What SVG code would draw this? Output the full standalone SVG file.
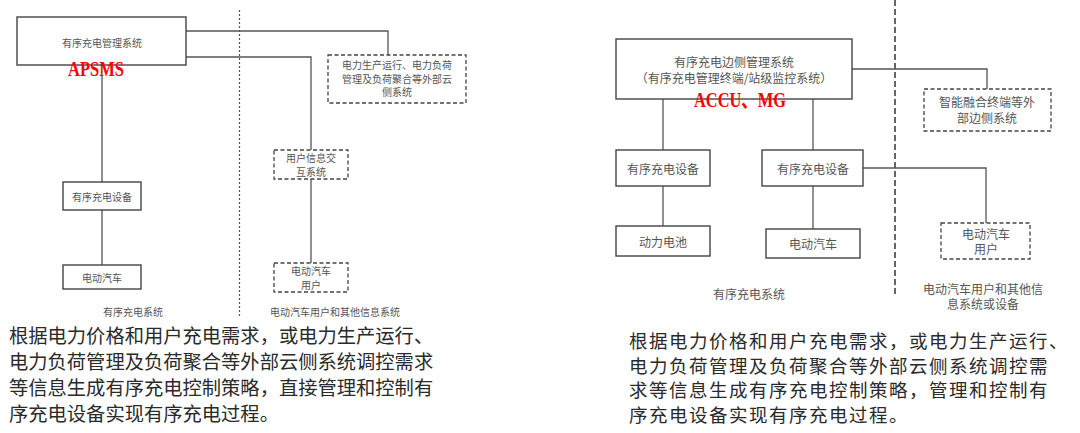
<svg xmlns="http://www.w3.org/2000/svg" width="1080" height="433" viewBox="0 0 1080 433">
<style>
.box{fill:#fff;stroke:#444;stroke-width:1.4}
.dbox{fill:#fff;stroke:#444;stroke-width:1.3;stroke-dasharray:4,2.5}
.ln{fill:none;stroke:#555;stroke-width:1.3}
.t{font-family:"Noto Sans CJK SC","Noto Sans",sans-serif;fill:#555;text-anchor:middle;dominant-baseline:central}
.s10{font-size:10px}
.s12{font-size:12px}
.red{font-family:"Liberation Serif","Noto Sans CJK SC",serif;fill:#ff0000;font-size:21px;font-weight:bold}
.p{font-family:"Noto Sans CJK SC","Noto Sans",sans-serif;fill:#2a2a2a;dominant-baseline:central}
</style>
<rect width="1080" height="433" fill="#fff"/>
<!-- separators -->
<line x1="239.5" y1="10" x2="239.5" y2="318" stroke="#555" stroke-width="1.2" stroke-dasharray="2,2"/>
<line x1="895" y1="0" x2="895" y2="297" stroke="#333" stroke-width="1.5" stroke-dasharray="6,3"/>
<g id="connectors">
<polyline class="ln" points="186,31 388,31 388,55"/>
<polyline class="ln" points="186,57 311,57 311,150"/>
<line class="ln" x1="102" y1="65" x2="102" y2="182"/>
<line class="ln" x1="102" y1="210" x2="102" y2="265"/>
<line class="ln" x1="311" y1="179" x2="311" y2="263"/>
<polyline class="ln" points="852,69 987,69 987,89"/>
<line class="ln" x1="663" y1="99" x2="663" y2="150"/>
<line class="ln" x1="813" y1="99" x2="813" y2="150"/>
<polyline class="ln" points="863,168 986,168 986,223"/>
<line class="ln" x1="663" y1="186" x2="663" y2="226"/>
<line class="ln" x1="813" y1="186" x2="813" y2="229"/>
</g>
<!-- left diagram -->
<g id="apsms-main">
<rect class="box" x="17" y="17" width="169" height="48"/>
<text class="t s10" x="102" y="42">有序充电管理系统</text>
<text class="red" x="68" y="76" textLength="56" lengthAdjust="spacingAndGlyphs">APSMS</text>
</g>
<g id="cloud-ext">
<rect class="dbox" x="328" y="55" width="138" height="48"/>
<text class="t s10" x="397" y="64">电力生产运行、电力负荷</text>
<text class="t s10" x="397" y="78">管理及负荷聚合等外部云</text>
<text class="t s10" x="397" y="91">侧系统</text>
</g>
<g id="l-device">
<rect class="box" x="63" y="182" width="78" height="28"/>
<text class="t s10" x="102" y="196">有序充电设备</text>
</g>
<g id="l-ev">
<rect class="box" x="63" y="265" width="78" height="24"/>
<text class="t s10" x="102" y="277">电动汽车</text>
</g>
<g id="l-userinfo">
<rect class="dbox" x="274" y="150" width="74" height="29"/>
<text class="t s10" x="311" y="157.5">用户信息交</text>
<text class="t s10" x="311" y="171.5">互系统</text>
</g>
<g id="l-evuser">
<rect class="dbox" x="274" y="263" width="74" height="29"/>
<text class="t s10" x="311" y="270.5">电动汽车</text>
<text class="t s10" x="311" y="284.5">用户</text>
</g>
<text class="t s10" x="133" y="311">有序充电系统</text>
<text class="t s10" x="335" y="311">电动汽车用户和其他信息系统</text>
<!-- right diagram -->
<g id="edge-main">
<rect class="box" x="616" y="39" width="236" height="60"/>
<text class="t s12" x="734" y="61">有序充电边侧管理系统</text>
<text class="t s12" x="734" y="77">（有序充电管理终端/站级监控系统）</text>
<text class="red" x="694" y="107" font-size="23" textLength="92" lengthAdjust="spacingAndGlyphs">ACCU、MG</text>
</g>
<g id="edge-ext">
<rect class="dbox" x="924" y="89" width="127" height="42"/>
<text class="t s12" x="987" y="101">智能融合终端等外</text>
<text class="t s12" x="987" y="117">部边侧系统</text>
</g>
<g id="r-device1">
<rect class="box" x="616" y="150" width="94" height="36"/>
<text class="t s12" x="663" y="168">有序充电设备</text>
</g>
<g id="r-device2">
<rect class="box" x="762" y="150" width="101" height="36"/>
<text class="t s12" x="813" y="168">有序充电设备</text>
</g>
<g id="r-battery">
<rect class="box" x="616" y="226" width="94" height="30"/>
<text class="t s12" x="663" y="241">动力电池</text>
</g>
<g id="r-ev">
<rect class="box" x="766" y="229" width="94" height="29"/>
<text class="t s12" x="813" y="243.5">电动汽车</text>
</g>
<g id="r-evuser">
<rect class="dbox" x="941" y="223" width="89" height="36"/>
<text class="t s12" x="986" y="233">电动汽车</text>
<text class="t s12" x="986" y="248">用户</text>
</g>
<text class="t s12" x="749" y="293">有序充电系统</text>
<text class="t s12" x="983" y="288">电动汽车用户和其他信</text>
<text class="t s12" x="983" y="303">息系统或设备</text>
<!-- paragraphs -->
<g>
<text class="p" x="9" y="335" font-size="19.3">根据电力价格和用户充电需求，或电力生产运行、</text>
<text class="p" x="9" y="361" font-size="19.3">电力负荷管理及负荷聚合等外部云侧系统调控需求</text>
<text class="p" x="9" y="387" font-size="19.3">等信息生成有序充电控制策略，直接管理和控制有</text>
<text class="p" x="9" y="413" font-size="19.3">序充电设备实现有序充电过程。</text>
</g>
<g>
<text class="p" x="629" y="340" font-size="18.5" letter-spacing="1.5">根据电力价格和用户充电需求，或电力生产运行、</text>
<text class="p" x="629" y="364.5" font-size="18.5" letter-spacing="1.5">电力负荷管理及负荷聚合等外部云侧系统调控需</text>
<text class="p" x="629" y="389" font-size="18.5" letter-spacing="1.5">求等信息生成有序充电控制策略，管理和控制有</text>
<text class="p" x="629" y="413.5" font-size="18.5" letter-spacing="1.5">序充电设备实现有序充电过程。</text>
</g>
</svg>
